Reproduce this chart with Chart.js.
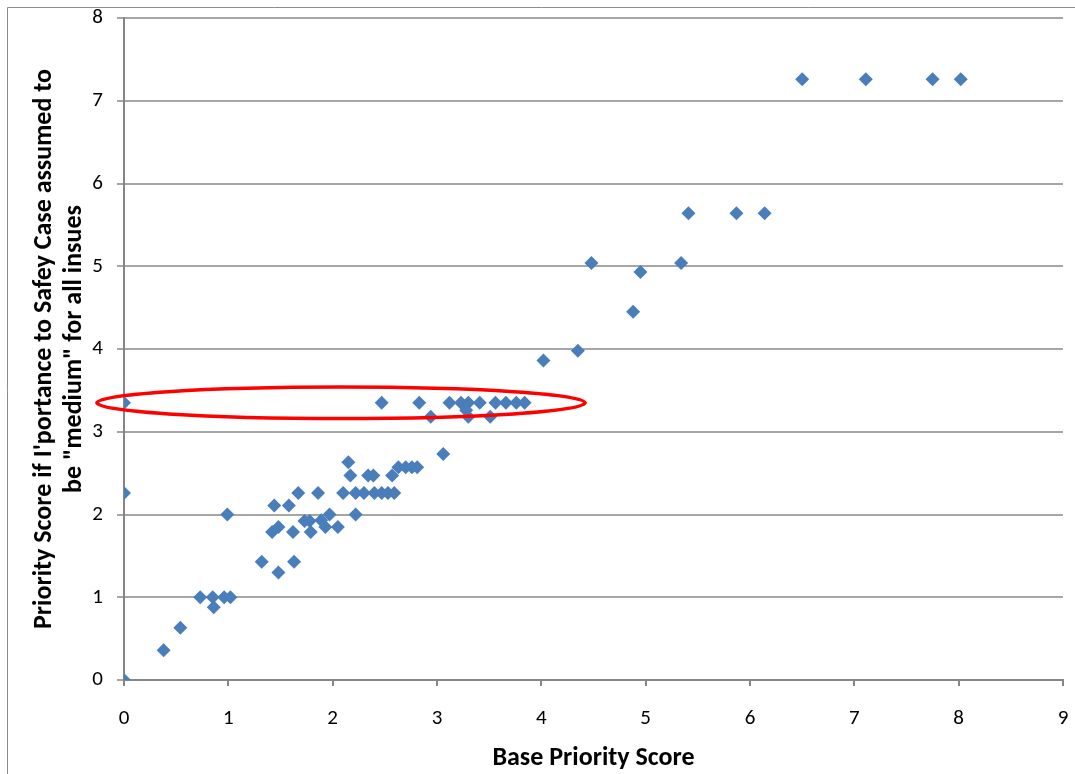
<!DOCTYPE html>
<html>
<head>
<meta charset="utf-8">
<script src="https://cdn.jsdelivr.net/npm/chart.js@4"></script>
<style>
  html, body { margin: 0; padding: 0; background: #fff; }
  #wrap { width: 1075px; height: 774px; position: relative; }
</style>
</head>
<body>
<div id="wrap"><canvas id="myChart"></canvas></div>
<script>
// Base priority score (x) vs priority score with "medium" importance (y)
const baseScores = [
    0, 2.47, 2.83, 2.94, 3.12, 3.23, 3.30, 3.41, 3.28, 3.30, 3.51, 3.56, 3.66, 3.76, 3.84,
    4.02, 4.35, 4.48, 4.88, 4.95, 5.34, 5.41, 5.87, 6.14, 6.50, 7.11, 7.75, 8.02,
    3.06, 2.63, 2.70, 2.76, 2.81,
    2.15, 2.17, 2.34, 2.39, 2.57,
    1.67, 1.86, 2.10, 2.22, 2.30, 2.40, 2.47, 2.53, 2.59,
    1.44, 1.58, 0, 0.99, 1.97, 2.22,
    1.42, 1.48, 1.62, 1.73, 1.78, 1.79, 1.89, 1.93, 2.05,
    1.32, 1.63, 1.48,
    0.73, 0.85, 0.96, 1.02, 0.86, 0.54, 0.38, 0
];
const mediumScores = [
    3.35, 3.35, 3.35, 3.18, 3.35, 3.35, 3.35, 3.35, 3.26, 3.18, 3.18, 3.35, 3.35, 3.35, 3.35,
    3.86, 3.98, 5.04, 4.45, 4.93, 5.04, 5.64, 5.64, 5.64, 7.26, 7.26, 7.26, 7.26,
    2.73, 2.57, 2.57, 2.57, 2.57,
    2.63, 2.47, 2.47, 2.47, 2.47,
    2.26, 2.26, 2.26, 2.26, 2.26, 2.26, 2.26, 2.26, 2.26,
    2.11, 2.11, 2.26, 2.00, 2.00, 2.00,
    1.79, 1.85, 1.79, 1.92, 1.92, 1.79, 1.93, 1.85, 1.85,
    1.43, 1.43, 1.30,
    1.00, 1.00, 1.00, 1.00, 0.88, 0.63, 0.36, 0
];
const xTicks = [0, 1, 2, 3, 4, 5, 6, 7, 8, 9];
const yTicks = [0, 1, 2, 3, 4, 5, 6, 7, 8];

// highlighted band around the "medium" plateau (data units)
const ringCenter = [2.08, 3.35];
const ringRadius = [2.34, 0.19];

const FONT = 'Carlito, Calibri, "Liberation Sans", sans-serif';

const points = baseScores.map((v, i) => ({ x: v, y: mediumScores[i] }));

const ringPlugin = {
    id: 'ring',
    afterDatasetsDraw(chart) {
        const { ctx, scales: { x, y } } = chart;
        const cx = x.getPixelForValue(ringCenter[0]);
        const cy = y.getPixelForValue(ringCenter[1]);
        const rx = x.getPixelForValue(ringCenter[0] + ringRadius[0]) - cx;
        const ry = cy - y.getPixelForValue(ringCenter[1] + ringRadius[1]);
        ctx.save();
        ctx.beginPath();
        ctx.ellipse(cx, cy, rx, ry, 0, 0, Math.PI * 2);
        ctx.strokeStyle = '#ff0000';
        ctx.lineWidth = 3.5;
        ctx.stroke();
        ctx.restore();
    }
};

const framePlugin = {
    id: 'frame',
    beforeDraw(chart) {
        const { ctx } = chart;
        ctx.save();
        ctx.fillStyle = '#fff';
        ctx.fillRect(0, 0, chart.width, chart.height);
        ctx.strokeStyle = '#8c8c8c';
        ctx.lineWidth = 1;
        ctx.beginPath();
        ctx.moveTo(7.5, chart.height);
        ctx.lineTo(7.5, 7.5);
        ctx.lineTo(chart.width, 7.5);
        ctx.stroke();
        ctx.restore();
    }
};

const config = {
    type: 'scatter',
    data: {
        datasets: [{
            label: 'Priority',
            data: points,
            pointStyle: 'rectRot',
            pointRadius: 7,
            pointHoverRadius: 7,
            backgroundColor: '#4a7ebb',
            borderColor: '#4a7ebb',
            borderWidth: 0
        }]
    },
    options: {
        responsive: false,
        animation: false,
        layout: { padding: { top: 18, right: 12, bottom: 0, left: 0 } },
        plugins: {
            legend: { display: false },
            tooltip: { enabled: false }
        },
        scales: {
            x: {
                type: 'linear',
                min: 0,
                max: 9,
                afterBuildTicks: (s) => { s.ticks = xTicks.map(v => ({ value: v })); },
                afterFit: (s) => {
                    s.height = 94;
                    s.paddingLeft = 0;
                    s.paddingRight = 0;
                },
                border: { color: '#868686', width: 2 },
                grid: { drawOnChartArea: false, drawTicks: true, tickLength: 6, color: '#868686', lineWidth: 2 },
                ticks: { color: '#000', font: { family: FONT, size: 21 }, padding: 20 },
                title: {
                    display: true,
                    text: 'Base Priority Score',
                    color: '#000',
                    font: { family: FONT, size: 26, weight: 'bold' },
                    padding: { top: 4, bottom: 0 }
                }
            },
            y: {
                type: 'linear',
                min: 0,
                max: 8,
                afterBuildTicks: (s) => { s.ticks = yTicks.map(v => ({ value: v })); },
                afterFit: (s) => {
                    s.width = 124;
                    s.paddingTop = 0;
                    s.paddingBottom = 0;
                },
                border: { color: '#868686', width: 2 },
                grid: { color: '#a6a6a6', lineWidth: 2, tickLength: 7 },
                ticks: { color: '#000', font: { family: FONT, size: 21 }, padding: 14 },
                title: {
                    display: true,
                    text: ['Priority Score if I\'portance to Safey Case assumed to', 'be "medium" for all insues'],
                    color: '#000',
                    font: { family: FONT, size: 26, weight: 'bold', lineHeight: 1.15 },
                    padding: { top: 30, bottom: 0 }
                }
            }
        }
    },
    plugins: [framePlugin, ringPlugin]
};

const canvas = document.getElementById('myChart');
canvas.width = 1075;
canvas.height = 774;
new Chart(canvas, config);
</script>
</body>
</html>
